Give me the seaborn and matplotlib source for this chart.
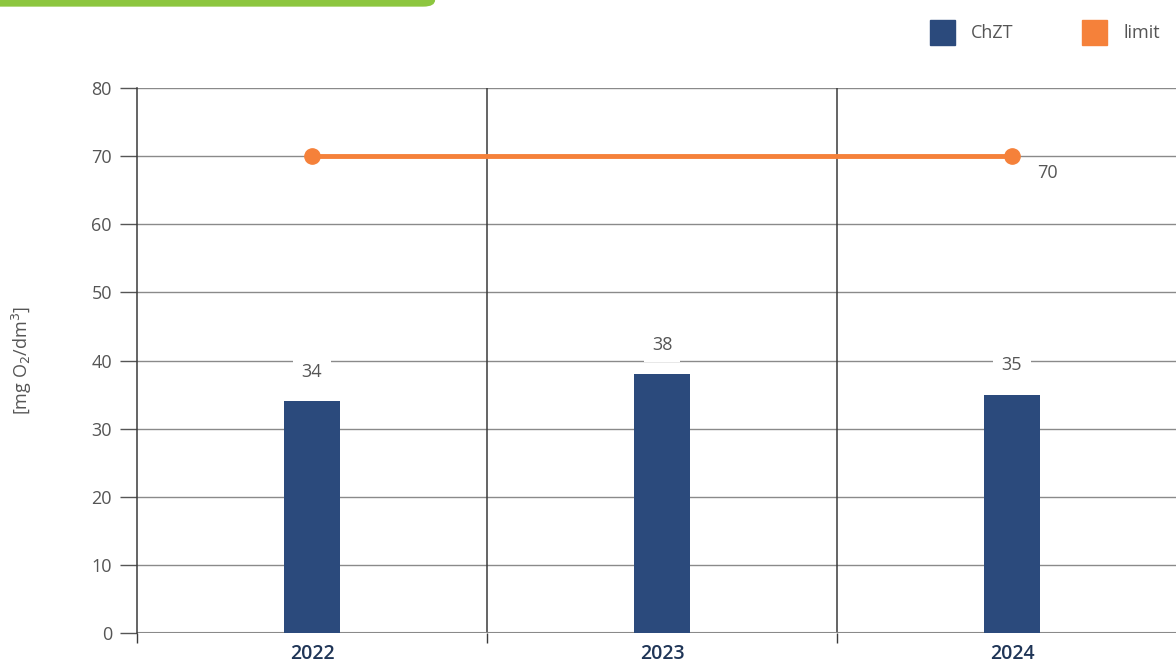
import numpy as np
import pandas as pd
import matplotlib.pyplot as plt
import matplotlib.patches as mpatches
from matplotlib.lines import Line2D
import seaborn as sns

years = ['2022', '2023', '2024']
chzt = [34, 38, 35]
limit = [70, 70, 70]
y_ticks = [0, 10, 20, 30, 40, 50, 60, 70, 80]

bar_color = '#2b4a7c'
line_color = '#f5813a'
text_color = '#555555'

sns.set_style('white')
plt.rcParams['font.family'] = ['Open Sans', 'DejaVu Sans']

fig = plt.figure(figsize=(11.76, 6.64), dpi=100)
ax = fig.add_axes([137 / 1176, 1 - 633 / 664, 1050 / 1176, (633 - 88) / 664])

df = pd.DataFrame({'year': years, 'ChZT': chzt})
sns.barplot(data=df, x='year', y='ChZT', color=bar_color, width=0.16,
            saturation=1, linewidth=0, ax=ax, zorder=3)

x = np.arange(len(years))
# limit line, markers only at the ends as in the original
ax.plot(x, limit, color=line_color, linewidth=3.5, marker='o', markersize=11,
        markevery=[0, len(x) - 1], zorder=4)

ax.set_xlim(-0.5, 2.5)
ax.set_ylim(0, 80)
ax.set_yticks(y_ticks)
ax.set_xlabel('')
ax.set_ylabel('')

# horizontal grid
for t in y_ticks[1:]:
    ax.axhline(t, color='#8a8a8a', linewidth=1, zorder=1)
# category boundaries
for b in [0.5, 1.5]:
    ax.axvline(b, color='#3a3a3a', linewidth=1.1, zorder=2)

for side in ['top', 'right', 'bottom']:
    ax.spines[side].set_visible(False)
ax.spines['left'].set_color('#3a3a3a')
ax.spines['left'].set_linewidth(1.1)
ax.axhline(0, color='#8a8a8a', linewidth=1.5, zorder=2)

ax.tick_params(axis='y', direction='out', length=12, width=1, color='#555555',
               labelsize=13, labelcolor=text_color, pad=6, left=True)
ax.set_xticks(x)
ax.set_xticklabels(years, fontsize=14, fontweight='semibold', color='#1f3557')
ax.tick_params(axis='x', length=0, pad=8)
ax.set_xticks([-0.5, 0.5, 1.5], minor=True)
ax.tick_params(axis='x', which='minor', direction='out', length=7, width=1,
               color='#3a3a3a', bottom=True)

# value labels
for xi, v in zip(x, chzt):
    ax.text(xi, v + 3, str(v), ha='center', va='bottom', fontsize=13,
            color=text_color, zorder=5,
            bbox=dict(facecolor='white', edgecolor='none', pad=6))
ax.text(x[-1] + 0.1, limit[-1] - 1.2, str(limit[-1]), ha='center', va='top',
        fontsize=13, color=text_color, zorder=5)

fig.text(22 / 1176, 1 - 360 / 664, '[mg O$_2$/dm$^3$]', rotation=90,
         ha='center', va='center', fontsize=13, color=text_color)

handles = [Line2D([], [], marker='s', linestyle='none', markersize=18,
                  color=bar_color, label='ChZT'),
           Line2D([], [], marker='s', linestyle='none', markersize=18,
                  color=line_color, label='limit')]
fig.legend(handles=handles, loc='center right', bbox_to_anchor=(1.0, 1 - 33 / 664),
           ncol=2, frameon=False, fontsize=13, columnspacing=3.5,
           handletextpad=0.6, labelcolor=text_color)

# green header strip
fig.patches.append(mpatches.FancyBboxPatch((-0.02, 0.99), 0.39, 0.03,
                   boxstyle='round,pad=0,rounding_size=0.01',
                   transform=fig.transFigure, facecolor='#8dc63f',
                   edgecolor='none'))

fig.savefig('out.png', dpi=100)
